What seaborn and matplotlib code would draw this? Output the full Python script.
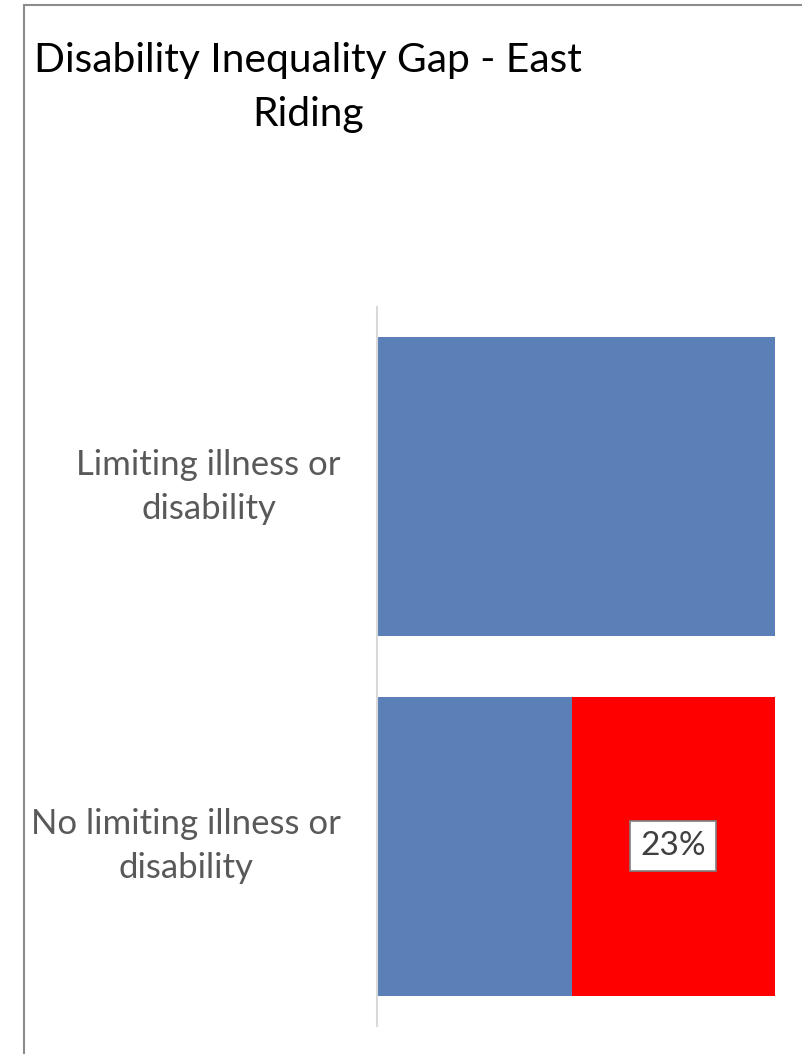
import matplotlib
matplotlib.use("Agg")
import matplotlib.pyplot as plt
import seaborn as sns
import pandas as pd
from matplotlib.lines import Line2D

categories = ["Limiting illness or\ndisability", "No limiting illness or\ndisability"]
base_values = [45, 22]
gap_values = [0, 23]
gap_labels = ["", "23%"]
title = "Disability Inequality Gap - East\nRiding"

sns.set_theme(style="white")
plt.rcParams["font.family"] = ["Lato", "DejaVu Sans"]

W, H = 802, 1054
fig = plt.figure(figsize=(W / 100, H / 100), dpi=100)
ax = fig.add_axes([377 / W, 1 - 1026 / H, (775 - 377) / W, (1026 - 307) / H])

df = pd.DataFrame({
    "category": categories,
    "base": base_values,
    "gap": gap_values,
})
df["total"] = df["base"] + df["gap"]

blue = "#5B80B7"
red = "#FF0000"

sns.barplot(data=df, y="category", x="total", hue="category",
            palette=[blue, red], orient="h", width=0.833, ax=ax,
            legend=False, saturation=1, linewidth=0)
sns.barplot(data=df, y="category", x="base", color=blue, orient="h",
            width=0.833, ax=ax, saturation=1, linewidth=0)

for i, (b, g, lab) in enumerate(zip(base_values, gap_values, gap_labels)):
    if lab:
        ax.text(b + g / 2, i, lab, ha="center", va="center", fontsize=24,
                color="#404040",
                bbox=dict(boxstyle="square,pad=0.3", facecolor="white",
                          edgecolor="#7F7F7F", linewidth=1.2))

ax.set_xlim(0, 45)
ax.set_ylim(1.5, -0.5)
ax.set_xlabel("")
ax.set_ylabel("")
ax.set_xticks([])
for s in ["top", "right", "bottom"]:
    ax.spines[s].set_visible(False)
ax.spines["left"].set_color("#D9D9D9")
ax.spines["left"].set_linewidth(1.5)
ax.tick_params(axis="y", length=0, pad=26, labelsize=25, labelcolor="#595959")
for t in ax.get_yticklabels():
    t.set_multialignment("center")
    t.set_linespacing(1.45)
    t.set_verticalalignment("center")

fig.text(308 / W, 1 - 42 / H, title, ha="center", va="top", fontsize=29.3,
         color="black", multialignment="center", linespacing=1.56)

# chart border (partially visible)
fig.add_artist(Line2D([24 / W, 24 / W], [0, 1 - 5 / H], transform=fig.transFigure,
                      color="#8C8C8C", linewidth=1.5))
fig.add_artist(Line2D([24 / W, 1], [1 - 5 / H, 1 - 5 / H], transform=fig.transFigure,
                      color="#8C8C8C", linewidth=1.5))

fig.savefig("out.png", dpi=100)
